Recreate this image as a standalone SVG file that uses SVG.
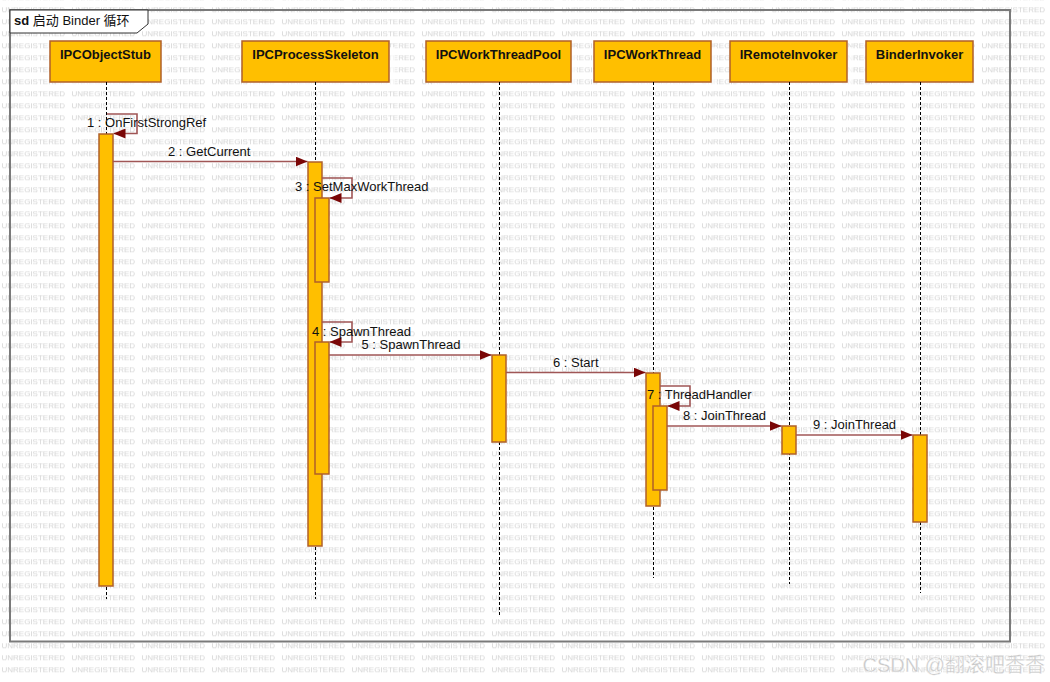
<svg xmlns="http://www.w3.org/2000/svg" width="1050" height="682" viewBox="0 0 1050 682">
<style>
.head{fill:#FFBF00;stroke:#B0602A;stroke-width:1.5}
.shadow{fill:#ffffff;opacity:0.65}
.act{fill:#FFBF00;stroke:#B0602A;stroke-width:1.5}
.life{stroke:#000;stroke-width:1;stroke-dasharray:3,2;fill:none}
.msg{stroke:#A05656;stroke-width:1.6;fill:none;marker-end:url(#arr)}
.ht{font-family:"Liberation Sans",Arial,sans-serif;font-size:13px;font-weight:bold;fill:#111;text-anchor:middle}
.lbl{font-family:"Liberation Sans",Arial,sans-serif;font-size:13px;fill:#111}
.wm{font-family:"Liberation Sans",Arial,sans-serif;font-size:8px;fill:#d4d4d4}
</style>
<defs>
<pattern id="wmp" x="0" y="3.3" width="70" height="12" patternUnits="userSpaceOnUse">
<text class="wm" x="1.5" y="8.9">UNREGISTERED</text>
</pattern>
<marker id="arr" viewBox="0 0 12 10" refX="12" refY="5" markerWidth="12" markerHeight="10" markerUnits="userSpaceOnUse" orient="auto">
<path d="M0,0 L12,5 L0,10 z" fill="#7A0606"/>
</marker>
</defs>
<rect x="0" y="0" width="1050" height="682" fill="#ffffff"/>
<rect x="0" y="0" width="1050" height="676" fill="url(#wmp)"/>

<g id="frame">
<rect x="10" y="10" width="1000" height="631.5" fill="none" stroke="#7a7a7a" stroke-width="2"/>
<path d="M10,10 L148,10 L148,24 L137,33 L10,33 Z" fill="#ffffff" stroke="#333" stroke-width="1"/>
<text x="14" y="25" style="font-family:'Liberation Sans','Noto Sans CJK SC',sans-serif;font-size:13px;fill:#111"><tspan font-weight="bold">sd</tspan> 启动 Binder 循环</text>
</g>

<g id="IPCObjectStub">
<rect class="shadow" x="56" y="47" width="111" height="41"/>
<rect class="head" x="50" y="41" width="111" height="41"/>
<text class="ht" x="105.5" y="59">IPCObjectStub</text>
<line class="life" x1="106.5" y1="82" x2="106.5" y2="599"/>
<rect class="act" x="99" y="134" width="14" height="452"/>
</g>

<g id="IPCProcessSkeleton">
<rect class="shadow" x="248" y="47" width="147" height="41"/>
<rect class="head" x="242" y="41" width="147" height="41"/>
<text class="ht" x="315.5" y="59">IPCProcessSkeleton</text>
<line class="life" x1="315.5" y1="82" x2="315.5" y2="599"/>
<rect class="act" x="308" y="162" width="14" height="384"/>
<rect class="act" x="315" y="198" width="14" height="84"/>
<rect class="act" x="315" y="342" width="14" height="132"/>
</g>

<g id="IPCWorkThreadPool">
<rect class="shadow" x="432" y="47" width="145" height="41"/>
<rect class="head" x="426" y="41" width="145" height="41"/>
<text class="ht" x="498.5" y="59">IPCWorkThreadPool</text>
<line class="life" x1="499.5" y1="82" x2="499.5" y2="617"/>
<rect class="act" x="492" y="355" width="14" height="87"/>
</g>

<g id="IPCWorkThread">
<rect class="shadow" x="600" y="47" width="117" height="41"/>
<rect class="head" x="594" y="41" width="117" height="41"/>
<text class="ht" x="652.5" y="59">IPCWorkThread</text>
<line class="life" x1="653.5" y1="82" x2="653.5" y2="578"/>
<rect class="act" x="646" y="373" width="14" height="133"/>
<rect class="act" x="653" y="406" width="14" height="84"/>
</g>

<g id="IRemoteInvoker">
<rect class="shadow" x="736" y="47" width="117" height="41"/>
<rect class="head" x="730" y="41" width="117" height="41"/>
<text class="ht" x="788.5" y="59">IRemoteInvoker</text>
<line class="life" x1="789.5" y1="82" x2="789.5" y2="584"/>
<rect class="act" x="782" y="426" width="14" height="28"/>
</g>

<g id="BinderInvoker">
<rect class="shadow" x="872" y="47" width="107" height="41"/>
<rect class="head" x="866" y="41" width="107" height="41"/>
<text class="ht" x="919.5" y="59">BinderInvoker</text>
<line class="life" x1="920.5" y1="82" x2="920.5" y2="593"/>
<rect class="act" x="913" y="435" width="14" height="87"/>
</g>

<g id="connectors">
<path class="msg" d="M107,114 L137,114 L137,133.5 L113.5,133.5"/>
<text class="lbl" x="87" y="127">1 : OnFirstStrongRef</text>
<path class="msg" d="M113,161.5 L307.5,161.5"/>
<text class="lbl" x="168" y="156">2 : GetCurrent</text>
<path class="msg" d="M322,178 L352,178 L352,198 L329.5,198"/>
<text class="lbl" x="295" y="191">3 : SetMaxWorkThread</text>
<path class="msg" d="M322,322 L352,322 L352,342 L329.5,342"/>
<text class="lbl" x="312" y="335.5">4 : SpawnThread</text>
<path class="msg" d="M329,355 L491.5,355"/>
<text class="lbl" x="361.5" y="348.5">5 : SpawnThread</text>
<path class="msg" d="M506,372.5 L645.5,372.5"/>
<text class="lbl" x="553" y="367">6 : Start</text>
<path class="msg" d="M660,386 L690,386 L690,406 L667.5,406"/>
<text class="lbl" x="647" y="398.5">7 : ThreadHandler</text>
<path class="msg" d="M667,426 L781.5,426"/>
<text class="lbl" x="683" y="420">8 : JoinThread</text>
<path class="msg" d="M796,435 L912.5,435"/>
<text class="lbl" x="813" y="429">9 : JoinThread</text>
</g>

<text x="1045" y="672" text-anchor="end" style="font-family:'Liberation Sans','Noto Sans CJK SC',sans-serif;font-size:20px;fill:#c8c8c8;stroke:#ffffff;stroke-width:0.3">CSDN @翻滚吧香香</text>
</svg>
